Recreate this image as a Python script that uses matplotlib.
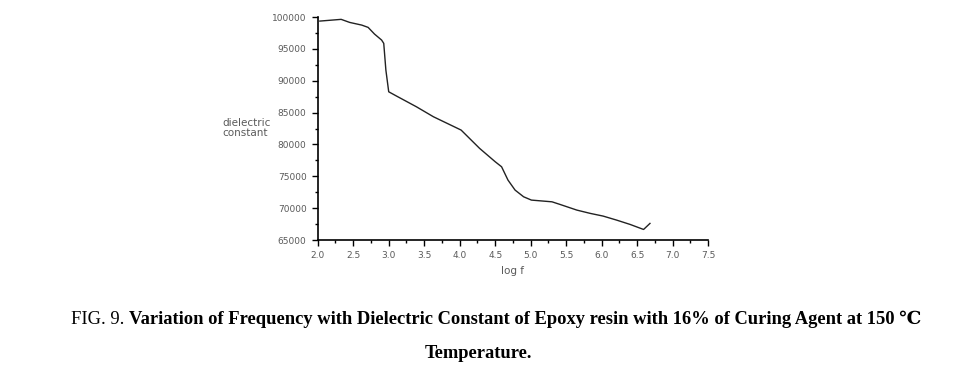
import numpy as np
import matplotlib
matplotlib.use("Agg")
from matplotlib import pyplot as plt
from matplotlib.ticker import MultipleLocator

# data
log_f = [2.03, 2.33, 2.45, 2.62, 2.71, 2.80, 2.90, 2.93, 2.96, 3.00, 3.11, 3.39,
         3.63, 4.02, 4.28, 4.50, 4.59, 4.68, 4.78, 4.90, 5.01, 5.30, 5.41, 5.65,
         5.84, 6.02, 6.21, 6.40, 6.59, 6.68]
dielectric = [99370, 99640, 99160, 98740, 98380, 97330, 96390, 95870, 91680, 88270,
              87600, 85920, 84350, 82260, 79390, 77290, 76500, 74410, 72840, 71790,
              71270, 71000, 70600, 69700, 69180, 68760, 68130, 67450, 66660, 67610]
x_ticks = [2.0, 2.5, 3.0, 3.5, 4.0, 4.5, 5.0, 5.5, 6.0, 6.5, 7.0, 7.5]
y_ticks = [65000, 70000, 75000, 80000, 85000, 90000, 95000, 100000]

tick_color = "#5a5a5a"
serif = ["Liberation Serif", "DejaVu Serif"]

fig = plt.figure(figsize=(9.57, 3.71), dpi=100)
ax = fig.add_axes([0.332, 0.353, 0.408, 0.601])

ax.plot(log_f, dielectric, color="#222222", linewidth=1.0)

ax.set_xlim(2.0, 7.5)
ax.set_ylim(65000, 100000)
ax.set_xticks(x_ticks)
ax.set_xticklabels([f"{t:.1f}" for t in x_ticks])
ax.set_yticks(y_ticks)
ax.set_yticklabels([str(t) for t in y_ticks])
ax.xaxis.set_minor_locator(MultipleLocator(0.25))
ax.yaxis.set_minor_locator(MultipleLocator(2500))

for side in ["top", "right"]:
    ax.spines[side].set_visible(False)
for side in ["left", "bottom"]:
    ax.spines[side].set_color("black")
    ax.spines[side].set_linewidth(1.2)

ax.tick_params(axis="both", which="major", length=4, width=1, color="black",
               labelsize=6.5, labelcolor=tick_color, pad=4)
ax.tick_params(axis="both", which="minor", length=2.5, width=1, color="black")

ax.set_xlabel("log f", fontsize=7.5, color=tick_color, labelpad=4)
fig.text(0.232, 0.655, "dielectric\nconstant", fontsize=7.5, color=tick_color,
         ha="left", va="center", linespacing=0.9)

# caption: regular "FIG. 9." followed by bold text
fig.canvas.draw()
renderer = fig.canvas.get_renderer()
cap_size = 13.3
part1 = fig.text(0, 0, "FIG. 9. ", fontsize=cap_size, family=serif)
part2 = fig.text(0, 0, "Variation of Frequency with Dielectric Constant of Epoxy resin "
                 "with 16% of Curing Agent at 150 \u2103", fontsize=cap_size,
                 family=serif, fontweight="bold")
w1 = part1.get_window_extent(renderer).width
w2 = part2.get_window_extent(renderer).width
total = w1 + w2
x0 = 496 - total / 2
y_line1 = 371 - 324
part1.set_position((x0 / 957, y_line1 / 371))
part2.set_position(((x0 + w1) / 957, y_line1 / 371))
fig.text(478 / 957, (371 - 358) / 371, "Temperature.", fontsize=cap_size,
         family=serif, fontweight="bold", ha="center")

fig.savefig("out.png", dpi=100)
